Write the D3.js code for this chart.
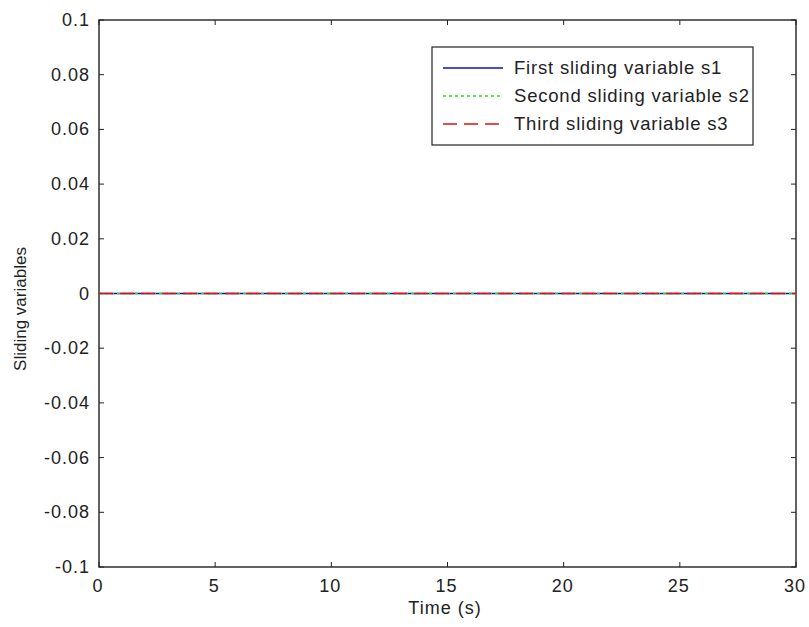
<!DOCTYPE html>
<html><head><meta charset="utf-8">
<script src="https://cdn.jsdelivr.net/npm/d3@7"></script>
<style>body{margin:0;background:#fff;} text{font-family:"Liberation Sans",Arial,sans-serif;}</style>
</head><body>
<svg id="c" width="809" height="627"></svg>
<script>
const xTicks = [0,5,10,15,20,25,30];
const yTicks = [-0.1,-0.08,-0.06,-0.04,-0.02,0,0.02,0.04,0.06,0.08,0.1];
const time = [0,5,10,15,20,25,30];
const s1 = [0,0,0,0,0,0,0];
const s2 = [0,0,0,0,0,0,0];
const s3 = [0,0,0,0,0,0,0];
const seriesNames = ["First sliding variable s1","Second sliding variable s2","Third sliding variable s3"];
const seriesColors = ["#1010c0","#22dd22","#dd1111"];
const seriesDash = [null,"3,3","14,7"];

const svg = d3.select("#c");
const L=99,R=796,T=20,B=567;
const x = d3.scaleLinear().domain([0,30]).range([L,R]);
const y = d3.scaleLinear().domain([-0.1,0.1]).range([B,T]);
const fmt = d => d===0 ? "0" : String(+d.toFixed(2));
const fs = 18;

svg.append("rect").attr("x",L).attr("y",T).attr("width",R-L).attr("height",B-T).attr("fill","#fff").attr("stroke","#222").attr("stroke-width",1.4);

const tl=5;
const g = svg.append("g").attr("stroke","#222").attr("stroke-width",1);
xTicks.forEach(t=>{
  g.append("line").attr("x1",x(t)).attr("x2",x(t)).attr("y1",B).attr("y2",B-tl);
  g.append("line").attr("x1",x(t)).attr("x2",x(t)).attr("y1",T).attr("y2",T+tl);
});
yTicks.forEach(t=>{
  g.append("line").attr("x1",L).attr("x2",L+tl).attr("y1",y(t)).attr("y2",y(t));
  g.append("line").attr("x1",R).attr("x2",R-tl).attr("y1",y(t)).attr("y2",y(t));
});
svg.selectAll(".xt").data(xTicks).enter().append("text")
  .attr("x",d=>x(d)-1).attr("y",B+25).attr("text-anchor","middle").attr("font-size",fs).attr("letter-spacing",1).attr("fill","#222").text(d=>d);
svg.selectAll(".yt").data(yTicks).enter().append("text")
  .attr("x",L-9).attr("y",d=>y(d)+6).attr("text-anchor","end").attr("font-size",fs).attr("letter-spacing",1).attr("fill","#222").text(fmt);

svg.append("text").attr("x",445).attr("y",614).attr("text-anchor","middle").attr("font-size",fs).attr("letter-spacing",1).attr("fill","#222").text("Time (s)");
svg.append("text").attr("transform",`translate(26,309) rotate(-90)`).attr("text-anchor","middle").attr("font-size",17).attr("fill","#222").text("Sliding variables");

const line = d3.line().x((d,i)=>x(time[i])).y(d=>y(d));
[s1,s2,s3].forEach((s,i)=>{
  svg.append("path").datum(s).attr("d",line).attr("fill","none")
    .attr("stroke",seriesColors[i]).attr("stroke-width",1.5)
    .attr("stroke-dasharray",seriesDash[i]);
});

const lg = svg.append("g");
lg.append("rect").attr("x",432).attr("y",47).attr("width",321).attr("height",98).attr("fill","#fff").attr("stroke","#222").attr("stroke-width",1.2);
seriesNames.forEach((n,i)=>{
  const yy = 68+i*28;
  lg.append("line").attr("x1",443).attr("x2",503).attr("y1",yy).attr("y2",yy)
    .attr("stroke",seriesColors[i]).attr("stroke-width",1.3).attr("stroke-dasharray",seriesDash[i]);
  lg.append("text").attr("x",514).attr("y",yy+6).attr("font-size",18.5).attr("letter-spacing",0.8).attr("fill","#222").text(n);
});
</script>
</body></html>
